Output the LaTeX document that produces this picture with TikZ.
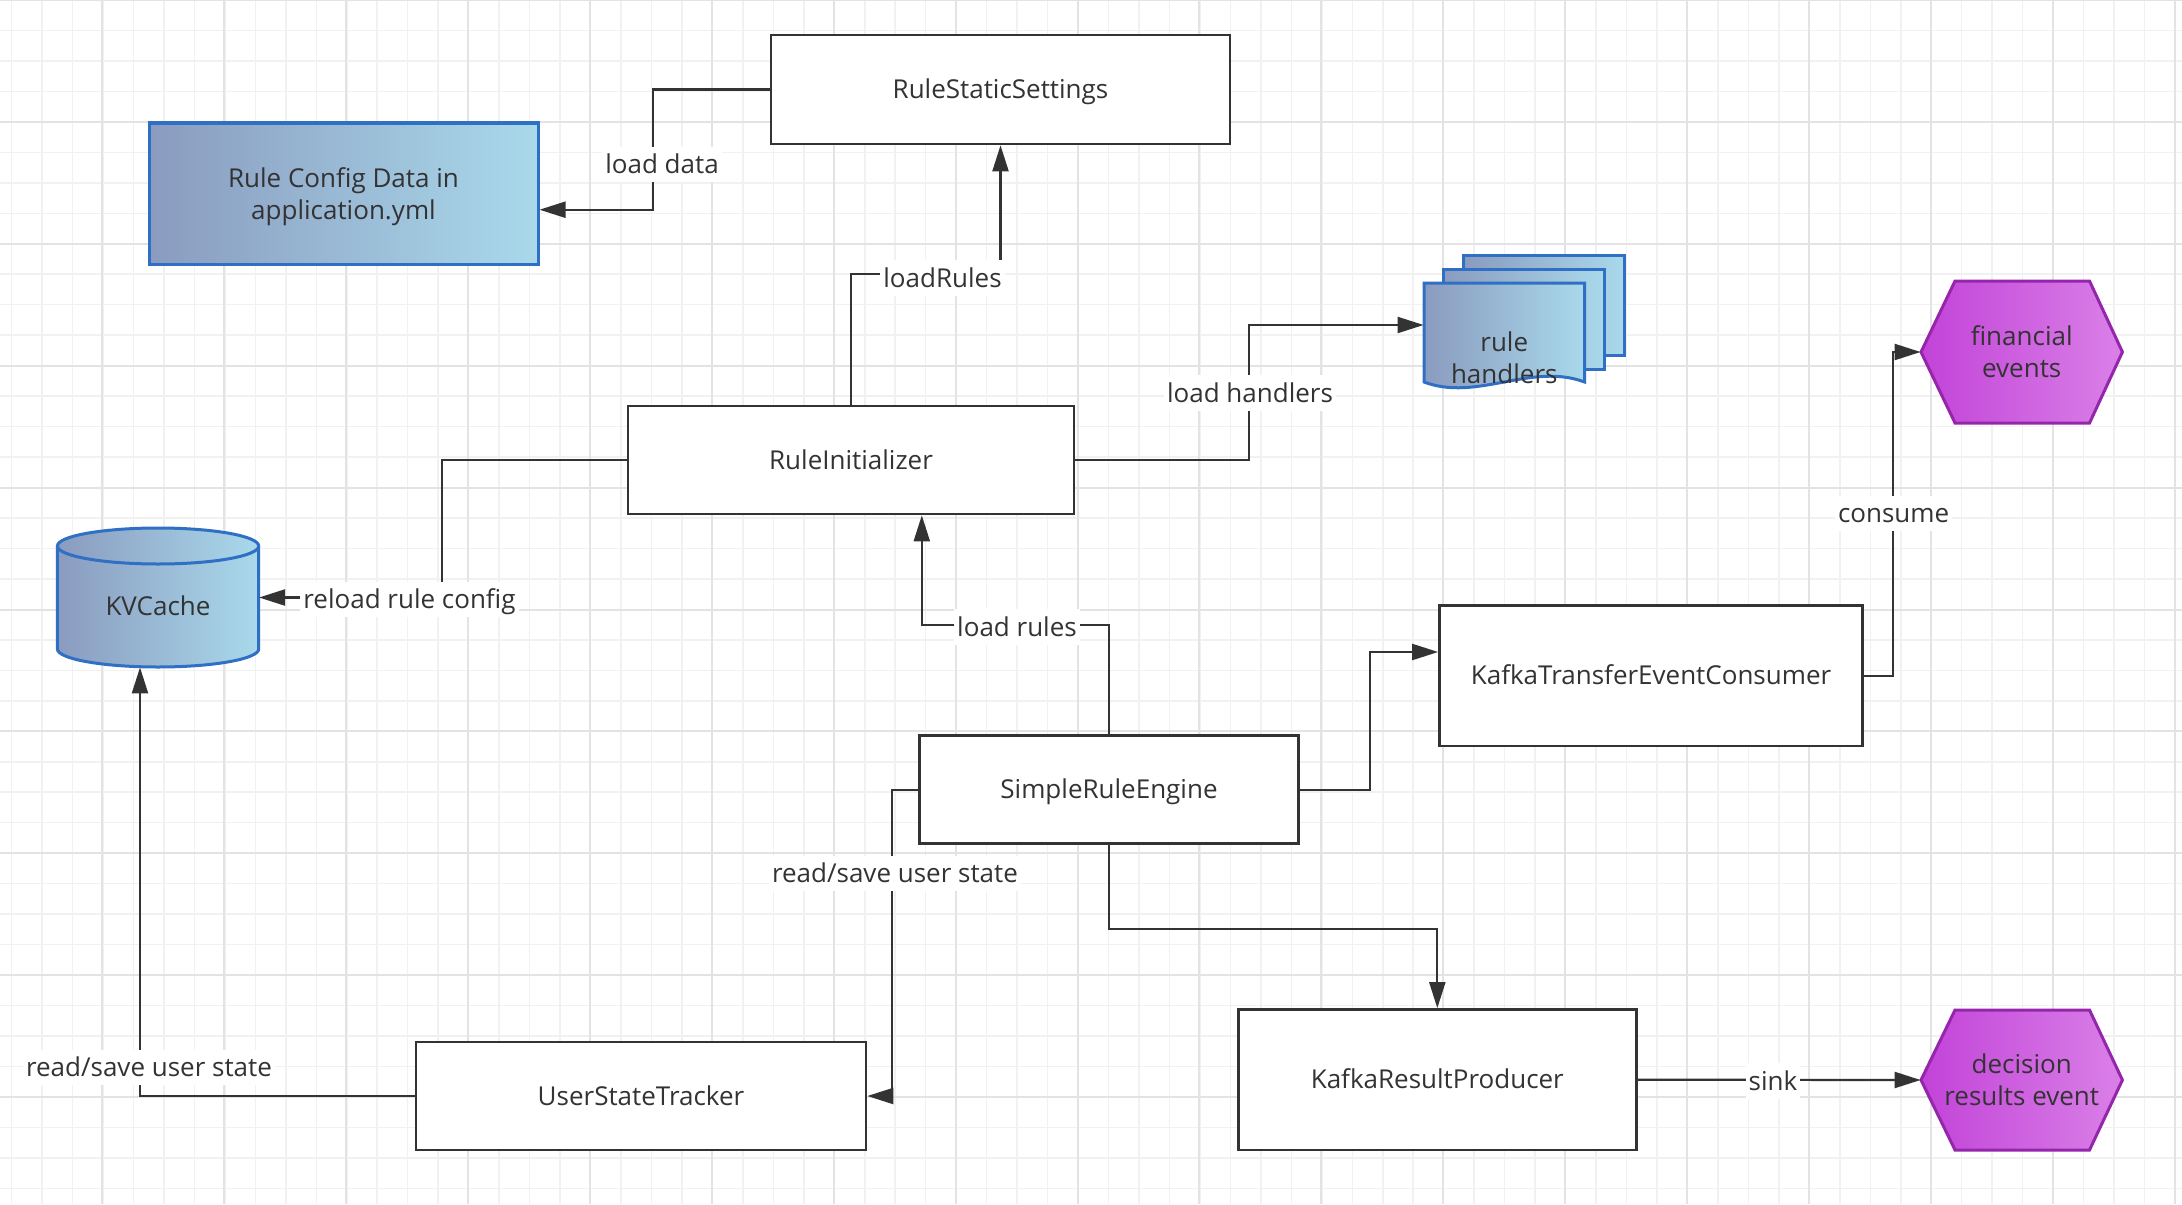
\documentclass[tikz,border=0pt]{standalone}
\usepackage{fontspec}
\setmainfont{Open Sans}
\usetikzlibrary{arrows.meta,calc}
\definecolor{ink}{HTML}{333333}
\definecolor{bluebd}{HTML}{2F6FC4}
\definecolor{blueL}{HTML}{8A9BBF}
\definecolor{blueR}{HTML}{A9D9EB}
\definecolor{purpL}{HTML}{C243D8}
\definecolor{purpR}{HTML}{DA80E8}
\definecolor{purpbd}{HTML}{9526AC}
\definecolor{gridminor}{HTML}{F1F1F1}
\definecolor{gridmajor}{HTML}{E3E3E3}
\begin{document}
\begin{tikzpicture}[x=0.5pt,y=-0.5pt,
  every node/.style={text=ink, font=\fontsize{13}{16}\selectfont},
  oneline/.style={text height=12pt, text depth=2.8pt},
  box/.style={draw=ink, line width=1.35pt, fill=white, align=center, inner sep=0pt, oneline},
  conn/.style={draw=ink, line width=1.1pt, line join=miter, -{Triangle[length=13pt,width=8pt]}},
  lbl/.style={fill=white, inner sep=1.5pt, oneline},
  bluefill/.style={left color=blueL, right color=blueR, draw=bluebd, line width=1.5pt},
  purplefill/.style={left color=purpL, right color=purpR, draw=purpbd, line width=1.5pt},
  gminor/.style={draw=gridminor, line width=0.75pt},
  gmajor/.style={draw=gridmajor, line width=1pt}]

\useasboundingbox (0,0) rectangle (2182,1204);
\fill[white] (0,0) rectangle (2182,1204);
% grid
\foreach \i in {0,...,71} \draw[gminor] ({11.6+30.47*\i},0) -- ({11.6+30.47*\i},1204);
\foreach \i in {0,...,39} \draw[gminor] (0,{30.47*\i}) -- (2182,{30.47*\i});
\foreach \i in {0,...,17} \draw[gmajor] ({102.3+121.9*\i},0) -- ({102.3+121.9*\i},1204);
\foreach \i in {0,...,9} \draw[gmajor] (0,{121.9*\i}) -- (2182,{121.9*\i});

% boxes
\node[box, minimum width=229.5pt, minimum height=54.5pt] (rss) at (1000.5,89.5) {RuleStaticSettings};
\node[bluefill, align=center, inner sep=0pt, text depth=0pt, minimum width=194.5pt, minimum height=70.5pt] (rcd) at (343.5,193.5) {Rule Config Data in\\application.yml};
\node[box, minimum width=223pt, minimum height=54pt] (ri) at (851,460) {RuleInitializer};
\node[box, minimum width=225pt, minimum height=54pt] (ust) at (641,1096) {UserStateTracker};
\node[box, minimum width=189.2pt, minimum height=54pt] (sre) at (1109,789.7) {SimpleRuleEngine};
\node[box, minimum width=211.5pt, minimum height=70.25pt] (ktc) at (1651,675.7) {KafkaTransferEventConsumer};
\node[box, minimum width=199pt, minimum height=70.25pt] (krp) at (1437.3,1079.7) {KafkaResultProducer};

% KVCache cylinder
\shadedraw[bluefill] (57.4,546) -- (57.4,649)
  .. controls (57.4,658.9) and (102.4,667) .. (158,667)
  .. controls (213.6,667) and (258.7,658.9) .. (258.7,649)
  -- (258.7,546)
  .. controls (258.7,536.1) and (213.6,528) .. (158,528)
  .. controls (102.4,528) and (57.4,536.1) .. (57.4,546) -- cycle;
\draw[draw=bluebd, line width=1.5pt] (57.4,546)
  .. controls (57.4,555.9) and (102.4,564) .. (158,564)
  .. controls (213.6,564) and (258.7,555.9) .. (258.7,546);
\node[inner sep=0pt, minimum width=100.65pt, minimum height=69.5pt] (kv) at (158,597.5) {};
\node[oneline] (kvtext) at (158,606) {KVCache};

% rule handlers (multiple documents)
\shadedraw[bluefill] (1463.7,255) rectangle (1624.5,355);
\shadedraw[bluefill] (1443.7,269) rectangle (1604.5,369);
\shadedraw[bluefill] (1424,283) -- (1584.5,283) -- (1584.5,382)
  .. controls (1531,362) and (1477,402) .. (1424,382) -- cycle;
\node[align=center, inner sep=0pt, minimum width=80.25pt] (rh) at (1504.25,357.7) {rule\\handlers};

% hexagons
\shadedraw[purplefill] (1921,352) -- (1955,281) -- (2089.5,281) -- (2122.4,352) -- (2089.5,423) -- (1955,423) -- cycle;
\node[align=center, inner sep=0pt, minimum width=100.7pt, minimum height=71pt] (fe) at (2021.7,352) {financial\\events};
\shadedraw[purplefill] (1921,1080) -- (1955,1010) -- (2089.5,1010) -- (2122.4,1080) -- (2089.5,1150) -- (1955,1150) -- cycle;
\node[align=center, inner sep=0pt, minimum width=100.7pt, minimum height=70pt] (dr) at (2021.7,1080) {decision\\results event};

% connectors
\draw[conn] (rss.west) -- ++(-116.5,0) |- ($(rcd.east)+(0,16.2)$);
\draw[conn] (ri.north) -- ++(0,-130.5) -| (rss.south);
\draw[conn] (ri.west) -- ++(-185,0) |- (kv.east);
\draw[conn] (ri.east) -- ++(173.5,0) |- ($(rh.west)+(0,-32.7)$);
\draw[conn] (sre.north) -- ++(0,-109.5) -| ($(ri.south)+(70.8,0)$);
\draw[conn] (sre.east) -- ++(70.7,0) |- ($(ktc.west)+(0,-23.7)$);
\draw[conn] (ktc.east) -- ++(29,0) |- (fe.west);
\draw[conn] (sre.west) -- ++(-26.6,0) |- (ust.east);
\draw[conn] (sre.south) -- ++(0,84.3) -| (krp.north);
\draw[conn] (krp.east) -- (dr.west);
\draw[conn] (ust.west) -| ($(kv.south)+(-18,0)$);

% labels
\node[lbl] (l1) at (662,164.6) {load data};
\node[lbl] (l2) at (942.5,278) {loadRules};
\node[lbl] (l3) at (409.5,599.5) {reload rule config};
\node[lbl] (l4) at (1250,393) {load handlers};
\node[lbl] (l5) at (1017,627) {load rules};
\node[lbl] (l6) at (1893.6,513.5) {consume};
\node[lbl] (l7) at (895,873.5) {read/save user state};
\node[lbl] (l8) at (149,1067.5) {read/save user state};
\node[lbl] (l9) at (1773,1081) {sink};
\end{tikzpicture}
\end{document}
